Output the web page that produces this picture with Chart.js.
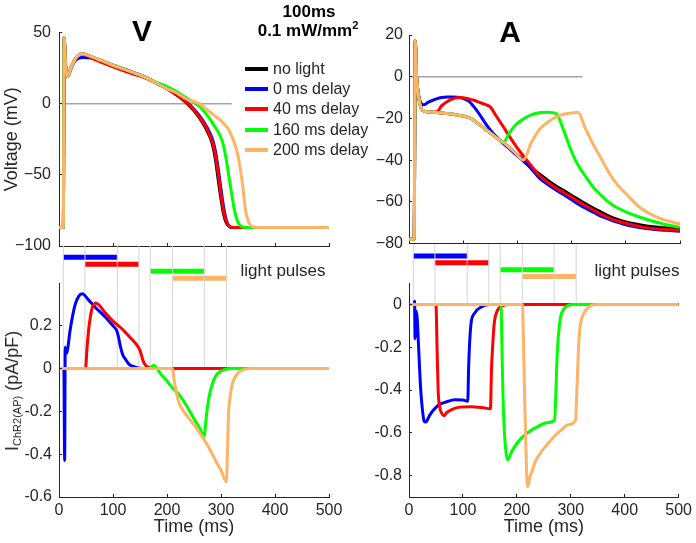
<!DOCTYPE html>
<html>
<head>
<meta charset="utf-8">
<script src="https://cdn.jsdelivr.net/npm/chart.js@4.4.0/dist/chart.umd.min.js"></script>
<style>
  body { margin: 0; background: #fff; }
  #wrap { position: relative; width: 696px; height: 543px; overflow: hidden;
          font-family: "Liberation Sans", Arial, sans-serif; color: #000; }
  canvas { position: absolute; left: 0; top: 0; }
  .lbl { position: absolute; white-space: nowrap; line-height: 1; transform: translate(-50%, -50%); }
  .ttl { font-size: 30px; font-weight: bold; }
  .hdr { font-size: 17px; font-weight: bold; }
  .hdr sup { font-size: 11px; position: relative; top: -7px; vertical-align: baseline; }
  .lp { font-size: 17px; color: #262626; }
  .ylab { font-size: 18px; color: #262626; transform: translate(-50%, -50%) rotate(-90deg); }
  .ylab sub { font-size: 11px; position: relative; top: 3px; vertical-align: baseline; }
  .leg-sw { position: absolute; width: 23px; height: 4px; }
  .leg-tx { position: absolute; font-size: 16px; line-height: 1; white-space: nowrap; transform: translateY(-50%); color: #262626; }
</style>
</head>
<body>
<div id="wrap">
  <canvas id="cVTop" width="696" height="543"></canvas>
  <canvas id="cATop" width="696" height="543"></canvas>
  <canvas id="cVBot" width="696" height="543"></canvas>
  <canvas id="cABot" width="696" height="543"></canvas>
  <div class="lbl ttl" style="left:142px;top:31px">V</div>
  <div class="lbl ttl" style="left:510px;top:32px">A</div>
  <div class="lbl hdr" style="left:309px;top:11px">100ms</div>
  <div class="lbl hdr" style="left:308px;top:30px">0.1 mW/mm<sup>2</sup></div>
  <div id="legend"></div>
  <div class="lbl lp" style="left:283px;top:270px">light pulses</div>
  <div class="lbl lp" style="left:637px;top:270px">light pulses</div>
  <div class="lbl ylab" style="left:12px;top:391px">I<sub>ChR2(AP)</sub> (pA/pF)</div>
</div>
<script>
// ---- values ----
const seriesNames  = ['no light', '0 ms delay', '40 ms delay', '160 ms delay', '200 ms delay'];
const seriesColors = ['#000000', '#0000ff', '#ff0000', '#00ff00', '#ffb366'];

// light pulses (ms) for 0 / 40 / 160 / 200 ms delay
const pulseStart = [8, 48, 169, 210];
const pulseEnd   = [108, 148, 269, 310];

const timeTicks = [0, 100, 200, 300, 400, 500];
const vTicks  = [-100, -50, 0, 50];
const aTicks  = [-80, -60, -40, -20, 0, 20];
const iVTicks = [-0.6, -0.4, -0.2, 0, 0.2];
const iATicks = [-0.8, -0.6, -0.4, -0.2, 0];
const zeroLineT = [0, 320];

// V cell, membrane voltage (mV)
const tV = [0, 8, 9.5, 12, 16, 22, 30, 43, 60, 80, 100, 120, 140, 160, 180, 200,
  220, 230, 240, 250, 260, 270, 280, 285, 290, 295, 300, 305, 310, 315, 320, 325,
  330, 335, 340, 345, 350, 355, 360, 370, 400, 500];
const vNoLight = [-87, -87, 46.5, 28, 19, 25, 31.3, 35, 33, 30, 27, 24.3, 21.5, 18.5, 14.5, 10.5,
  5.5, 2.5, -1, -5, -10, -16, -24, -30, -40, -54, -67, -78, -84, -86, -87, -87,
  -87, -87, -87, -87, -87, -87, -87, -87, -87, -87];
const vDelay0 = [-87, -87, 46.5, 28, 19, 24.5, 30.3, 32.5, 32, 30, 27, 24.5, 21.7, 18.7, 14.7, 10.7,
  5.8, 3, 0, -4, -8.5, -14, -21, -26, -34, -46, -60, -73, -82, -86, -87, -87,
  -87, -87, -87, -87, -87, -87, -87, -87, -87, -87];
const vDelay40 = [-87, -87, 46.5, 28, 19, 25, 31.3, 35, 32, 28.8, 25.8, 23, 20.5, 18, 14.5, 10.5,
  5.5, 2.5, -0.5, -4.5, -9.5, -15, -23, -28, -37, -50, -64, -76, -83, -86, -87, -87,
  -87, -87, -87, -87, -87, -87, -87, -87, -87, -87];
const vDelay160 = [-87, -87, 46.5, 28, 19, 25, 31.3, 35, 33, 30, 27, 24.3, 21.5, 18.5, 15, 12,
  8, 5.5, 3, 1, -2, -6, -11, -14, -17, -20, -24, -30, -40, -52, -64, -75,
  -82, -85.5, -86.5, -87, -87, -87, -87, -87, -87, -87];
const vDelay200 = [-87, -87, 46.5, 28, 19, 25, 31.3, 35, 33, 30, 27, 24.3, 21.5, 18.5, 14.5, 10.5,
  7, 4.5, 2.5, 1.5, 0, -3, -6, -7.5, -9, -10.5, -12, -14, -16, -19, -23, -28,
  -34, -44, -57, -74, -82, -85.5, -86.5, -87, -87, -87];

// A cell, membrane voltage (mV)
const tA = [0, 9.5, 11.5, 14, 18, 23, 28, 35, 44, 52, 60, 70, 82, 94, 105, 112,
  120, 130, 140, 150, 160, 174, 185, 198, 211, 225, 240, 255, 272, 285, 300, 312,
  325, 340, 355, 370, 385, 400, 425, 450, 475, 500];
const aNoLight = [-78, -78, 17.4, 0, -10, -15.5, -16.5, -16.8, -17, -17.2, -17.4, -17.6, -18, -18.6, -19.2, -19.8,
  -21, -23, -25, -27, -29, -31.5, -34, -37, -40, -43.5, -46.5, -49.5, -52.5, -54.5, -57, -58.8,
  -60.8, -63, -65, -67, -68.5, -69.7, -71, -72, -72.6, -73];
const aDelay0 = [-78, -78, 17.4, 0, -9, -13, -13.5, -12.3, -11.3, -10.5, -10, -9.7, -9.7, -10, -11, -12.1,
  -14.5, -18, -22, -25.5, -28.5, -32, -34.5, -37.5, -40.5, -44, -48.5, -51.5, -54.5, -56.5, -59, -61,
  -63, -65, -67, -68.5, -69.8, -71, -72.3, -73.2, -73.7, -74.1];
const aDelay40 = [-78, -78, 17.4, 0, -10, -15.5, -16.5, -16.8, -17, -16.8, -14, -12, -10.5, -10, -10.3, -10.8,
  -11.3, -12.3, -13.3, -14.5, -18.5, -24, -28.5, -33.5, -38, -42.5, -47.3, -50.5, -53.5, -55.5, -57.8, -59.8,
  -61.8, -64, -66, -67.8, -69.2, -70.3, -71.8, -72.8, -73.3, -73.7];
const aDelay160 = [-78, -78, 17.4, 0, -10, -15.5, -16.5, -16.8, -17, -17.2, -17.4, -17.6, -18, -18.6, -19.2, -19.8,
  -21, -23, -25, -27, -29, -31.5, -27, -22.8, -20.3, -18.3, -17.3, -17, -17.8, -25.5, -36, -42.5,
  -47.5, -53, -57, -60.5, -63, -64.8, -67.3, -69.3, -71, -72.2];
const aDelay200 = [-78, -78, 17.4, 0, -10, -15.5, -16.5, -16.8, -17, -17.2, -17.4, -17.6, -18, -18.6, -19.2, -19.8,
  -21, -23, -25, -27, -29, -31.5, -34, -37, -40, -32, -25.5, -22, -19.3, -18, -17.4, -17,
  -24.5, -32.5, -39.5, -46.5, -52, -56, -62.5, -66.5, -69, -70.7];

// ChR2 current (pA/pF), V cell
const iNoLightT = [0, 500];
const iNoLight  = [0, 0];
const iV0T = [0, 9, 10.5, 11.5, 13, 16, 20, 24, 30, 37, 43, 55, 67, 86, 100, 107,
  110, 114, 118, 123, 130, 140, 155, 500];
const iV0  = [0, 0, -0.43, 0.1, 0.07, 0.09, 0.17, 0.23, 0.3, 0.34, 0.35, 0.32, 0.287, 0.24, 0.2, 0.177,
  0.15, 0.1, 0.065, 0.044, 0.02, 0.008, 0, 0];
const iV40T = [0, 49, 52, 55, 58, 61, 64, 68, 75, 86, 100, 117, 130, 147, 150, 153,
  156, 160, 165, 172, 185, 500];
const iV40  = [0, 0, 0.1, 0.185, 0.24, 0.28, 0.298, 0.307, 0.295, 0.26, 0.222, 0.185, 0.15, 0.1, 0.085, 0.06,
  0.035, 0.016, 0.007, 0.002, 0, 0];
const iV160T = [0, 168, 172, 176, 180, 190, 200, 210, 225, 240, 250, 260, 269, 271, 274, 278,
  283, 290, 296, 305, 320, 500];
const iV160  = [0, 0, 0.01, 0.014, 0.005, -0.03, -0.058, -0.09, -0.13, -0.19, -0.235, -0.275, -0.317, -0.27, -0.2, -0.13,
  -0.08, -0.035, -0.018, -0.006, 0, 0];
const iV200T = [0, 209, 211, 213, 217, 221, 225, 240, 255, 269, 280, 290, 300, 310, 312, 314,
  317, 320, 325, 332, 340, 355, 500];
const iV200  = [0, 0, -0.01, -0.05, -0.11, -0.15, -0.176, -0.23, -0.28, -0.333, -0.38, -0.43, -0.475, -0.529, -0.38, -0.21,
  -0.13, -0.082, -0.045, -0.019, -0.007, 0, 0];

// ChR2 current (pA/pF), A cell
const iA0T = [0, 9.5, 10.3, 11.2, 12.5, 15, 18, 21, 24, 28, 31, 38, 45, 55, 70, 85,
  100, 109, 110.5, 112, 115, 121, 134, 150, 500];
const iA0  = [0, 0, 0.015, -0.16, -0.03, -0.06, -0.21, -0.37, -0.47, -0.545, -0.55, -0.52, -0.495, -0.47, -0.455, -0.445,
  -0.447, -0.452, -0.3, -0.2, -0.09, -0.043, -0.012, 0, 0];
const iA40T = [0, 50, 52, 54, 57, 61, 65, 70, 80, 95, 115, 135, 151, 153, 155, 158,
  164, 172, 185, 500];
const iA40  = [0, 0, -0.2, -0.4, -0.48, -0.51, -0.52, -0.505, -0.49, -0.48, -0.478, -0.482, -0.488, -0.3, -0.2, -0.09,
  -0.028, -0.008, 0, 0];
const iA160T = [0, 170.5, 172, 174, 176, 179, 183, 190, 200, 210, 225, 238, 255, 270, 272.5, 274,
  276, 278, 281, 286, 295, 305, 500];
const iA160  = [0, 0, -0.15, -0.4, -0.55, -0.67, -0.727, -0.69, -0.65, -0.62, -0.59, -0.572, -0.553, -0.541, -0.4, -0.28,
  -0.18, -0.12, -0.06, -0.025, -0.005, 0, 0];
const iA200T = [0, 210.5, 212, 214, 216, 218, 220, 224, 228, 235, 245, 256, 270, 281, 295, 309,
  310.5, 312, 315, 318, 324, 332, 345, 500];
const iA200  = [0, 0, -0.15, -0.38, -0.6, -0.78, -0.852, -0.81, -0.78, -0.73, -0.69, -0.655, -0.615, -0.59, -0.562, -0.541,
  -0.45, -0.354, -0.168, -0.09, -0.043, -0.015, 0, 0];

// ---- layout ----
const W = 696, H = 543;
const AXIS = '#262626';
const FONT = "'Liberation Sans', Arial, sans-serif";
Chart.defaults.font.family = FONT;
Chart.defaults.color = AXIS;

const areaVTop = { left: 59, right: 329, top: 32.5, bottom: 246 };
const areaATop = { left: 409, right: 680, top: 35, bottom: 243.5 };
const areaVBot = { left: 59, right: 329, top: 246, bottom: 497, axisTop: 283, rowTop: 257.3, rowGap: 7 };
const areaABot = { left: 409, right: 680, top: 244, bottom: 497, axisTop: 283, rowTop: 256, rowGap: 6.85 };

const pts = (ts, vs) => ts.map((t, i) => ({ x: t, y: vs[i] }));

function curveSets(pairs) {
  return pairs.map(([ts, vs], i) => ({
    data: pts(ts, vs),
    borderColor: seriesColors[i],
    borderWidth: 3,
    cubicInterpolationMode: 'monotone',
    order: pairs.length - i,  // later series drawn on top
    yAxisID: 'y'
  }));
}

// inward tick marks + (optionally) a shortened y axis line
const axisMarks = {
  id: 'axisMarks',
  afterDatasetsDraw(chart, args, opts) {
    const { ctx, chartArea: a, scales: { x, y } } = chart;
    const al = v => Math.round(v - 0.5) + 0.5;
    ctx.save();
    ctx.strokeStyle = AXIS;
    ctx.lineWidth = 1;
    ctx.beginPath();
    if (opts.yTop !== undefined) {
      ctx.moveTo(al(a.left), a.bottom);
      ctx.lineTo(al(a.left), y.getPixelForValue(opts.yTop));
    }
    x.ticks.forEach(t => {
      if (t.value <= x.min) return;
      const px = al(x.getPixelForValue(t.value));
      ctx.moveTo(px, a.bottom);
      ctx.lineTo(px, a.bottom - 3);
    });
    y.ticks.forEach(t => {
      if (t.value <= y.min) return;
      const py = al(y.getPixelForValue(t.value));
      ctx.moveTo(a.left, py);
      ctx.lineTo(a.left + 3, py);
    });
    ctx.stroke();
    ctx.restore();
  }
};

const fmtMinus = v => (v < 0 ? '\u2212' + Math.abs(v) : String(v));
const fmtHyph = v => String(v);

function topChart(id, area, yMin, yMax, ticks, curves, yTitle, labelPad) {
  const sets = curveSets(curves);
  sets.push({
    data: zeroLineT.map(t => ({ x: t, y: 0 })),
    borderColor: '#a6a6a6', borderWidth: 1.5, order: 10, yAxisID: 'y'
  });
  return new Chart(document.getElementById(id), {
    type: 'line',
    data: { datasets: sets },
    plugins: [axisMarks],
    options: {
      responsive: false, animation: false, events: [],
      layout: { autoPadding: false, padding: { left: 0, top: area.top, right: W - area.right, bottom: H - area.bottom } },
      elements: { point: { radius: 0 } },
      plugins: { legend: { display: false }, tooltip: { enabled: false }, axisMarks: {} },
      scales: {
        x: {
          type: 'linear', min: 0, max: 500,
          afterBuildTicks: s => { s.ticks = timeTicks.map(v => ({ value: v })); },
          afterFit: s => { s.height = 0; },
          ticks: { display: false },
          grid: { display: false, drawTicks: false },
          border: { color: AXIS, width: 1 }
        },
        y: {
          type: 'linear', min: yMin, max: yMax,
          afterBuildTicks: s => { s.ticks = ticks.map(v => ({ value: v })); },
          afterFit: s => { s.width = area.left; },
          ticks: { font: { size: 16 }, color: AXIS, padding: labelPad, callback: fmtMinus },
          grid: { display: false, drawTicks: false },
          border: { color: AXIS, width: 1 },
          title: yTitle ? { display: true, text: yTitle, font: { size: 18 }, color: AXIS, padding: { top: 1, bottom: 0 } } : { display: false }
        }
      }
    }
  });
}

function bottomChart(id, area, yMin, yTop, ticks, curves) {
  const perPx = (yTop - yMin) / (area.bottom - area.axisTop);
  const yMax = yTop + (area.axisTop - area.top) * perPx;
  const pMin = -(area.rowTop - area.top) / area.rowGap;
  const pMax = pMin + (area.bottom - area.top) / area.rowGap;

  const sets = curveSets(curves);
  pulseStart.forEach((s, i) => sets.push({
    data: [{ x: s, y: i }, { x: pulseEnd[i], y: i }],
    borderColor: seriesColors[i + 1], borderWidth: 5, borderCapStyle: 'butt',
    order: 30, yAxisID: 'yp'
  }));
  const edges = [];
  pulseStart.concat(pulseEnd).sort((a, b) => a - b)
    .forEach(t => edges.push({ x: t, y: 0 }, { x: t, y: yMax }, { x: t, y: null }));
  sets.push({ data: edges, borderColor: '#d4d4d4', borderWidth: 1, order: 20, yAxisID: 'y', spanGaps: false });

  return new Chart(document.getElementById(id), {
    type: 'line',
    data: { datasets: sets },
    plugins: [axisMarks],
    options: {
      responsive: false, animation: false, events: [],
      layout: { autoPadding: false, padding: { left: 0, top: area.top, right: W - area.right, bottom: 0 } },
      elements: { point: { radius: 0 } },
      plugins: { legend: { display: false }, tooltip: { enabled: false }, axisMarks: { yTop: yTop } },
      scales: {
        x: {
          type: 'linear', min: 0, max: 500,
          afterBuildTicks: s => { s.ticks = timeTicks.map(v => ({ value: v })); },
          afterFit: s => { s.height = H - area.bottom; },
          ticks: { font: { size: 16 }, color: AXIS, padding: 4, maxRotation: 0 },
          grid: { display: false, drawTicks: false },
          border: { color: AXIS, width: 1 },
          title: { display: true, text: 'Time (ms)', font: { size: 18 }, color: AXIS, padding: { top: 0, bottom: 5 } }
        },
        y: {
          type: 'linear', min: yMin, max: yMax,
          afterBuildTicks: s => { s.ticks = ticks.map(v => ({ value: v })); },
          afterFit: s => { s.width = area.left; },
          ticks: { font: { size: 16 }, color: AXIS, padding: 7, callback: fmtHyph },
          grid: { display: false, drawTicks: false },
          border: { display: false }
        },
        yp: { type: 'linear', display: false, reverse: true, min: pMin, max: pMax }
      }
    }
  });
}

topChart('cVTop', areaVTop, -100, 50, vTicks,
  [[tV, vNoLight], [tV, vDelay0], [tV, vDelay40], [tV, vDelay160], [tV, vDelay200]], 'Voltage (mV)', 8);
topChart('cATop', areaATop, -80, 20, aTicks,
  [[tA, aNoLight], [tA, aDelay0], [tA, aDelay40], [tA, aDelay160], [tA, aDelay200]], null, 6);
bottomChart('cVBot', areaVBot, -0.6, 0.4, iVTicks,
  [[iNoLightT, iNoLight], [iV0T, iV0], [iV40T, iV40], [iV160T, iV160], [iV200T, iV200]]);
bottomChart('cABot', areaABot, -0.9, 0.1, iATicks,
  [[iNoLightT, iNoLight], [iA0T, iA0], [iA40T, iA40], [iA160T, iA160], [iA200T, iA200]]);

// legend (HTML, built from the series arrays)
const legend = document.getElementById('legend');
seriesNames.forEach((name, i) => {
  const yc = 68.5 + 20.4 * i;
  const sw = document.createElement('div');
  sw.className = 'leg-sw';
  sw.style.left = '245px';
  sw.style.top = (yc - 2) + 'px';
  sw.style.background = seriesColors[i];
  const tx = document.createElement('div');
  tx.className = 'leg-tx';
  tx.style.left = '273px';
  tx.style.top = yc + 'px';
  tx.textContent = name;
  legend.appendChild(sw);
  legend.appendChild(tx);
});
</script>
</body>
</html>
